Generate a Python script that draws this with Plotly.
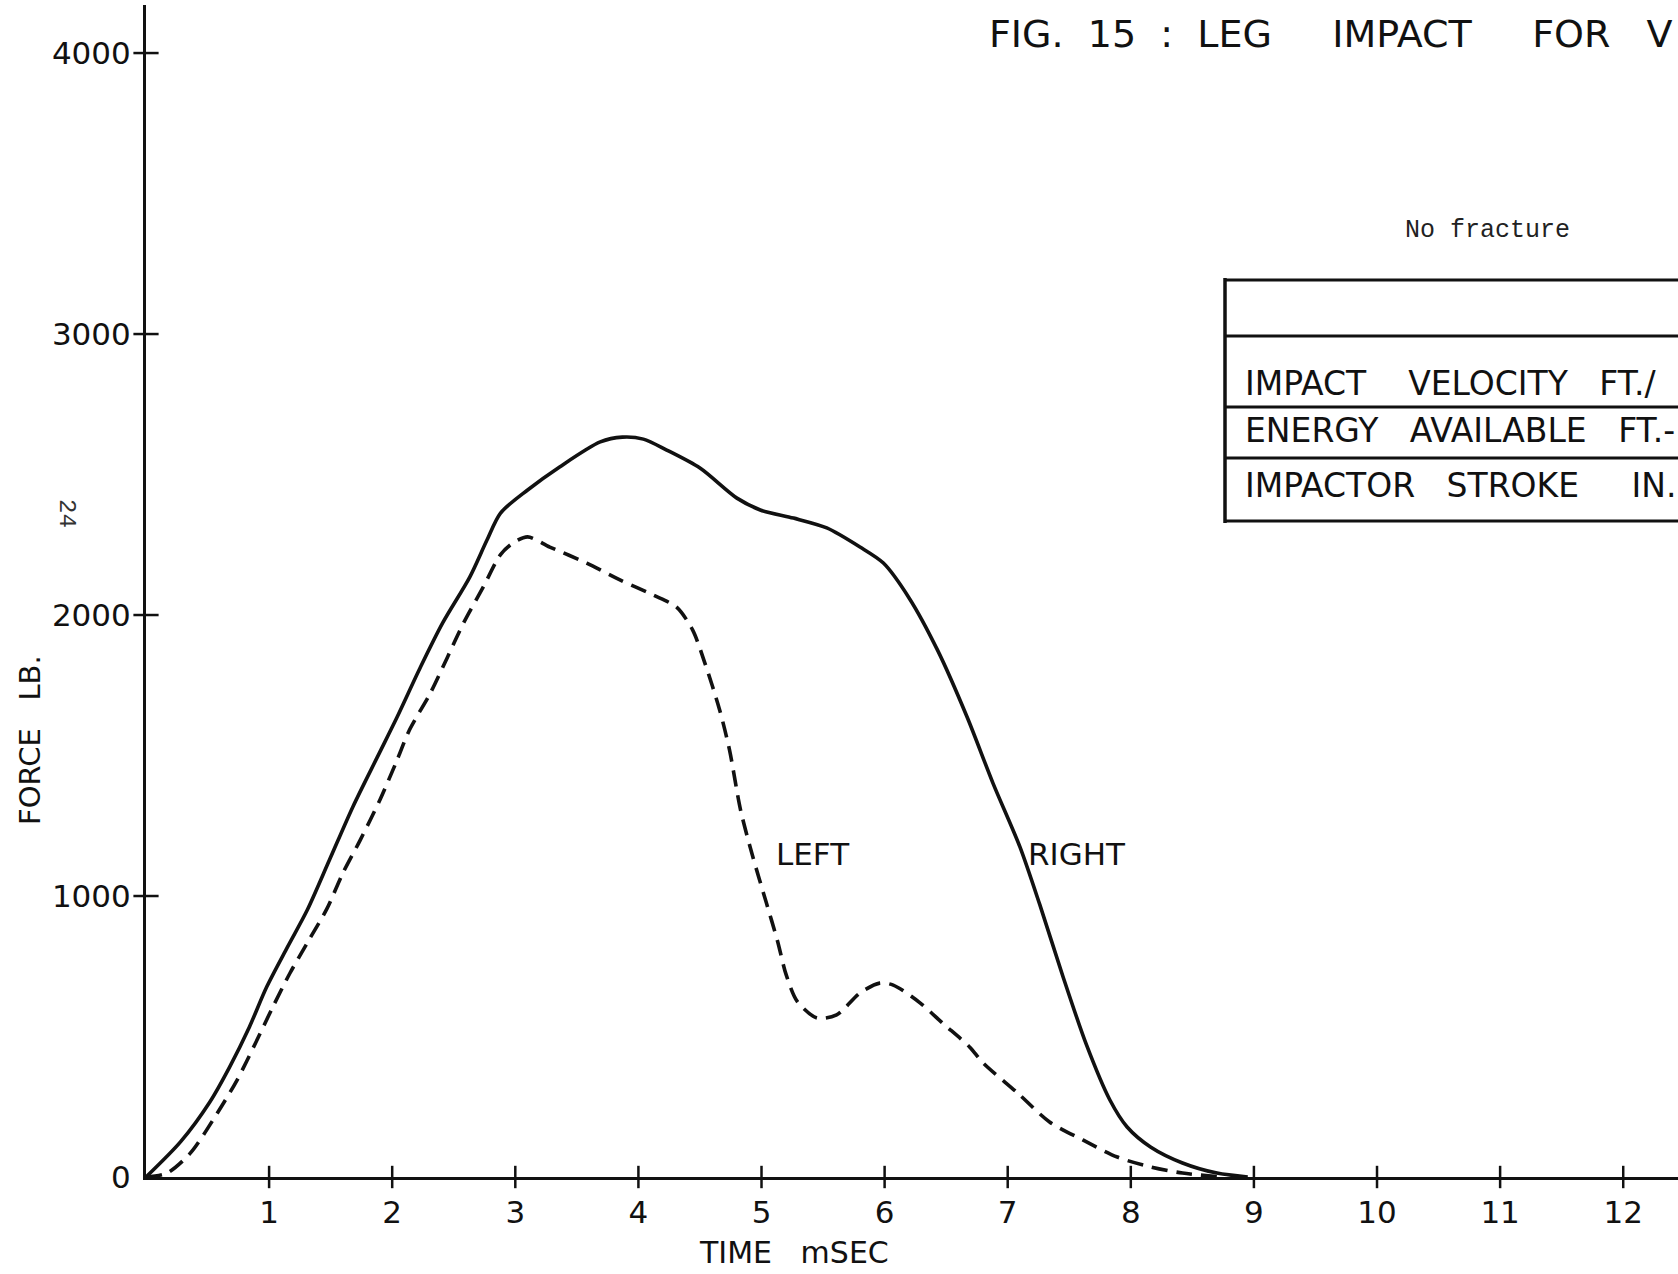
import plotly.graph_objects as go

# ---------------- data ----------------
time_right = [0.0, 0.28, 0.52, 0.68, 0.84, 0.98, 1.15, 1.31, 1.49, 1.68, 1.88, 2.04, 2.23,
              2.41, 2.63, 2.77, 2.88, 3.10, 3.36, 3.69, 3.87, 4.04, 4.23, 4.50, 4.80, 4.99,
              5.26, 5.53, 5.80, 5.99, 6.20, 6.43, 6.67, 6.88, 7.10, 7.26, 7.45, 7.64, 7.83,
              7.97, 8.16, 8.42, 8.70, 8.95]
force_right = [0, 125, 268, 392, 534, 676, 819, 950, 1128, 1317, 1495, 1637, 1815,
               1972, 2135, 2267, 2363, 2445, 2527, 2616, 2633, 2626, 2587, 2523, 2416, 2374,
               2345, 2310, 2242, 2185, 2060, 1875, 1637, 1402, 1174, 970, 712, 470, 274,
               178, 107, 50, 14, 0]

time_left = [0.0, 0.17, 0.36, 0.58, 0.74, 0.89, 1.03, 1.17, 1.31, 1.47, 1.60, 1.74, 1.90,
             2.04, 2.14, 2.31, 2.45, 2.58, 2.74, 2.88, 2.98, 3.10, 3.28, 3.58, 3.85, 4.12,
             4.31, 4.44, 4.54, 4.66, 4.74, 4.83, 4.93, 5.04, 5.13, 5.20, 5.29, 5.45, 5.61,
             5.80, 5.96, 6.07, 6.29, 6.47, 6.69, 6.80, 7.08, 7.34, 7.61, 7.89, 8.16, 8.42,
             8.75]
force_left = [0, 14, 85, 228, 345, 477, 605, 726, 833, 955, 1082, 1199, 1342,
              1484, 1591, 1722, 1851, 1972, 2100, 2215, 2256, 2278, 2242, 2185, 2125, 2071,
              2028, 1947, 1829, 1662, 1520, 1306, 1139, 975, 840, 720, 625, 566, 577,
              655, 690, 683, 619, 548, 463, 406, 299, 196, 132, 71, 36, 14,
              0]

x_ticks = list(range(1, 13))
y_ticks = [0, 1000, 2000, 3000, 4000]

title_text = "FIG.\u00a0\u00a015\u00a0\u00a0:\u00a0\u00a0LEG\u00a0\u00a0\u00a0\u00a0\u00a0IMPACT\u00a0\u00a0\u00a0\u00a0\u00a0FOR\u00a0\u00a0\u00a0V"
table_rows = [
    "IMPACT\u00a0\u00a0\u00a0\u00a0VELOCITY\u00a0\u00a0\u00a0FT./",
    "ENERGY\u00a0\u00a0\u00a0AVAILABLE\u00a0\u00a0\u00a0FT.-",
    "IMPACTOR\u00a0\u00a0\u00a0STROKE\u00a0\u00a0\u00a0\u00a0\u00a0IN.",
]

# ---------------- layout geometry ----------------
W, H = 1678, 1274
ML, MR, MT, MB = 146, 0, 5, 97
PW, PH = W - ML - MR, H - MT - MB
X_MAX = 12.445
Y_MAX = 4171


def px(xp):
    return (xp - ML) / PW


def py(yp):
    return (H - MB - yp) / PH


FONT = "DejaVu Sans"
BLACK = "#111111"

fig = go.Figure()
fig.add_trace(go.Scatter(
    x=time_right, y=force_right, mode="lines", name="RIGHT",
    line=dict(color=BLACK, width=3.6, shape="spline", smoothing=0.8),
    hoverinfo="skip"))
fig.add_trace(go.Scatter(
    x=time_left, y=force_left, mode="lines", name="LEFT",
    line=dict(color=BLACK, width=3.6, dash="16px,9px", shape="spline", smoothing=0.8),
    hoverinfo="skip"))
# tick marks that cross the axes
fig.add_trace(go.Scatter(
    x=x_ticks, y=[0] * len(x_ticks), mode="markers", cliponaxis=False,
    marker=dict(symbol="line-ns", size=16, line=dict(color=BLACK, width=2.5)),
    hoverinfo="skip"))
fig.add_trace(go.Scatter(
    x=[0] * (len(y_ticks) - 1), y=y_ticks[1:], mode="markers", cliponaxis=False,
    marker=dict(symbol="line-ew", size=18, line=dict(color=BLACK, width=2.5)),
    hoverinfo="skip"))

fig.update_xaxes(
    range=[0, X_MAX], tickvals=x_ticks, ticktext=[str(t) for t in x_ticks],
    showline=True, linecolor=BLACK, linewidth=3, ticks="", showgrid=False,
    zeroline=False, tickfont=dict(family=FONT, size=31, color=BLACK),
    ticklabelstandoff=6)
fig.update_yaxes(
    range=[0, Y_MAX], tickvals=y_ticks, ticktext=[str(t) for t in y_ticks],
    showline=True, linecolor=BLACK, linewidth=3, ticks="", showgrid=False,
    zeroline=False, tickfont=dict(family=FONT, size=31, color=BLACK),
    ticklabelstandoff=6)

annotations = [
    dict(text=title_text, x=px(987), y=py(34), xref="paper", yref="paper",
         xanchor="left", yanchor="middle", showarrow=False,
         font=dict(family=FONT, size=38, color=BLACK)),
    dict(text="TIME\u00a0\u00a0\u00a0mSEC", x=px(794), y=py(1252), xref="paper", yref="paper",
         xanchor="center", yanchor="middle", showarrow=False,
         font=dict(family=FONT, size=30, color=BLACK)),
    dict(text="FORCE\u00a0\u00a0\u00a0LB.", x=px(30), y=py(740), xref="paper", yref="paper",
         xanchor="center", yanchor="middle", showarrow=False, textangle=-90,
         font=dict(family=FONT, size=29, color=BLACK)),
    dict(text="24", x=px(67), y=py(513), xref="paper", yref="paper",
         xanchor="center", yanchor="middle", showarrow=False, textangle=90,
         font=dict(family="Liberation Mono", size=24, color="#333333")),
    dict(text="No fracture", x=px(1487), y=py(230), xref="paper", yref="paper",
         xanchor="center", yanchor="middle", showarrow=False,
         font=dict(family="Liberation Mono", size=25, color="#222222")),
    dict(text="LEFT", x=(813 - ML) / PW * X_MAX, y=(H - MB - 854) / PH * Y_MAX,
         xref="x", yref="y", xanchor="center", yanchor="middle", showarrow=False,
         font=dict(family=FONT, size=31, color=BLACK)),
    dict(text="RIGHT", x=(1077 - ML) / PW * X_MAX, y=(H - MB - 854) / PH * Y_MAX,
         xref="x", yref="y", xanchor="center", yanchor="middle", showarrow=False,
         font=dict(family=FONT, size=31, color=BLACK)),
]
for row_text, yc in zip(table_rows, [383, 430, 485]):
    annotations.append(dict(text=row_text, x=px(1243), y=py(yc), xref="paper", yref="paper",
                            xanchor="left", yanchor="middle", showarrow=False,
                            font=dict(family=FONT, size=33, color=BLACK)))

shapes = []
for yl in [280, 336, 407, 458, 521]:
    shapes.append(dict(type="line", xref="paper", yref="paper",
                       x0=px(1225), x1=px(W + 5), y0=py(yl), y1=py(yl),
                       line=dict(color=BLACK, width=3)))
shapes.append(dict(type="line", xref="paper", yref="paper",
                   x0=px(1225), x1=px(1225), y0=py(278), y1=py(523),
                   line=dict(color=BLACK, width=3.5)))

fig.update_layout(
    width=W, height=H, margin=dict(l=ML, r=MR, t=MT, b=MB, autoexpand=False),
    paper_bgcolor="white", plot_bgcolor="white", showlegend=False,
    annotations=annotations, shapes=shapes)

fig.write_html("out.html")
